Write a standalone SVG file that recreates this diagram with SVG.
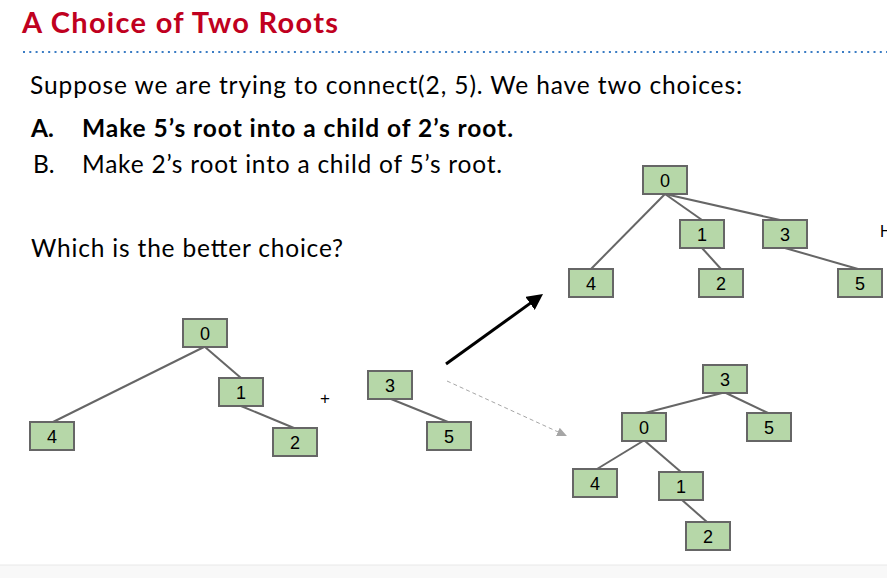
<svg xmlns="http://www.w3.org/2000/svg" width="887" height="578" viewBox="0 0 887 578">
<defs>
<style>
.title{font-family:Lato,"Liberation Sans",sans-serif;font-weight:bold;font-size:29px;fill:#c00020}
.body{font-family:Lato,"Liberation Sans",sans-serif;font-size:24.5px;fill:#000}
.bold{font-weight:bold}
.node rect{fill:#b6d7a8;stroke:#666666;stroke-width:2}
.node text{font-family:"Liberation Sans",Arial,sans-serif;font-size:18px;fill:#000;text-anchor:middle}
.edge{stroke:#666666;stroke-width:2;fill:none}
</style>
<marker id="ahBlack" markerUnits="userSpaceOnUse" markerWidth="16" markerHeight="16" refX="6" refY="8" orient="auto">
<path d="M0,0 L16,8 L0,16 z" fill="#000"/>
</marker>
<marker id="ahGray" markerUnits="userSpaceOnUse" markerWidth="10" markerHeight="9" refX="4" refY="4.5" orient="auto">
<path d="M0,0 L10,4.5 L0,9 z" fill="#a6a6a6"/>
</marker>
</defs>
<rect x="0" y="0" width="887" height="578" fill="#ffffff"/>
<rect x="0" y="565" width="887" height="13" fill="#f8f8f8"/>
<line x1="0" y1="565" x2="887" y2="565" stroke="#e8e8e8" stroke-width="1"/>

<g id="header">
<text class="title" x="22" y="33" textLength="316">A Choice of Two Roots</text>
<line x1="23" y1="52" x2="887" y2="52" stroke="#3a7cc4" stroke-width="2" stroke-dasharray="2 4.3"/>
</g>
<g id="body-text">
<text class="body" x="30" y="93.5" textLength="712">Suppose we are trying to connect(2, 5). We have two choices:</text>
<text class="body bold" x="31" y="137">A.</text>
<text class="body bold" x="82" y="137" textLength="431">Make 5’s root into a child of 2’s root.</text>
<text class="body" x="33" y="173">B.</text>
<text class="body" x="82" y="173" textLength="420">Make 2’s root into a child of 5’s root.</text>
<text class="body" x="31" y="257" textLength="312">Which is the better choice?</text>
</g>

<g id="connectors">
<line class="edge" x1="204" y1="347" x2="53" y2="422"/>
<line class="edge" x1="205" y1="347" x2="241" y2="378"/>
<line class="edge" x1="241" y1="406" x2="294" y2="428"/>
<line class="edge" x1="391" y1="399" x2="448" y2="422"/>
<line class="edge" x1="665" y1="194" x2="591" y2="269"/>
<line class="edge" x1="665" y1="194" x2="702" y2="220"/>
<line class="edge" x1="665" y1="194" x2="780" y2="220"/>
<line class="edge" x1="702" y1="248" x2="721" y2="269"/>
<line class="edge" x1="785" y1="248" x2="858" y2="269"/>
<line class="edge" x1="722" y1="393" x2="645" y2="413"/>
<line class="edge" x1="726" y1="393" x2="768" y2="413"/>
<line class="edge" x1="643" y1="441" x2="597" y2="469"/>
<line class="edge" x1="645" y1="441" x2="681" y2="472"/>
<line class="edge" x1="682" y1="500" x2="707" y2="522"/>
<line x1="446" y1="364" x2="534.9" y2="299.9" stroke="#000" stroke-width="3" marker-end="url(#ahBlack)"/>
<line x1="447" y1="381" x2="561.5" y2="433.5" stroke="#a6a6a6" stroke-width="1" stroke-dasharray="4 3" marker-end="url(#ahGray)"/>
</g>

<text x="325" y="404" font-family="Liberation Sans, Arial, sans-serif" font-size="17" text-anchor="middle">+</text>
<text x="880" y="237" font-family="Liberation Sans, Arial, sans-serif" font-size="16">H</text>

<g id="left-0" class="node"><rect x="183" y="319" width="44" height="28"/><text x="205" y="339.5">0</text></g>
<g id="left-1" class="node"><rect x="219" y="378" width="44" height="28"/><text x="241" y="398.5">1</text></g>
<g id="left-4" class="node"><rect x="30" y="422" width="44" height="28"/><text x="52" y="442.5">4</text></g>
<g id="left-2" class="node"><rect x="273" y="428" width="44" height="28"/><text x="295" y="448.5">2</text></g>
<g id="left-3" class="node"><rect x="368" y="371" width="44" height="28"/><text x="390" y="391.5">3</text></g>
<g id="left-5" class="node"><rect x="427" y="422" width="44" height="28"/><text x="449" y="442.5">5</text></g>

<g id="a-0" class="node"><rect x="643" y="166" width="44" height="28"/><text x="665" y="186.5">0</text></g>
<g id="a-1" class="node"><rect x="680" y="220" width="44" height="28"/><text x="702" y="240.5">1</text></g>
<g id="a-3" class="node"><rect x="763" y="220" width="44" height="28"/><text x="785" y="240.5">3</text></g>
<g id="a-4" class="node"><rect x="569" y="269" width="44" height="28"/><text x="591" y="289.5">4</text></g>
<g id="a-2" class="node"><rect x="699" y="269" width="44" height="28"/><text x="721" y="289.5">2</text></g>
<g id="a-5" class="node"><rect x="838" y="269" width="44" height="28"/><text x="860" y="289.5">5</text></g>

<g id="b-3" class="node"><rect x="703" y="365" width="44" height="28"/><text x="725" y="385.5">3</text></g>
<g id="b-0" class="node"><rect x="622" y="413" width="44" height="28"/><text x="644" y="433.5">0</text></g>
<g id="b-5" class="node"><rect x="747" y="413" width="44" height="28"/><text x="769" y="433.5">5</text></g>
<g id="b-4" class="node"><rect x="573" y="469" width="44" height="28"/><text x="595" y="489.5">4</text></g>
<g id="b-1" class="node"><rect x="659" y="472" width="44" height="28"/><text x="681" y="492.5">1</text></g>
<g id="b-2" class="node"><rect x="686" y="522" width="44" height="28"/><text x="708" y="542.5">2</text></g>
</svg>
